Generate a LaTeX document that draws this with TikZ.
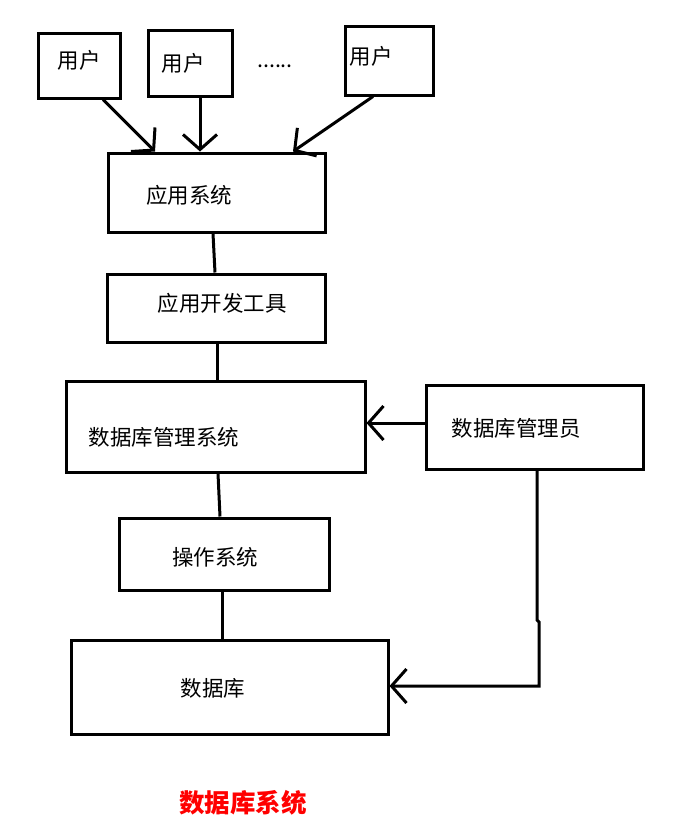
\documentclass[tikz,border=0pt]{standalone}
\usepackage{fontspec}
\setmainfont{Noto Sans CJK SC}
\usetikzlibrary{arrows.meta,calc}
\begin{document}
\begin{tikzpicture}[x=1pt,y=-1pt,
  box/.style={draw,line width=3pt,rectangle,inner sep=0pt},
  txt/.style={font=\fontsize{21.5}{24}\selectfont,inner sep=0pt},
  conn/.style={line width=3pt},
  arr/.style={line width=3pt,-{Straight Barb[length=15pt,width=34pt,line width=3pt]}}]
\useasboundingbox (0,0) rectangle (696,828);
% boxes
\node[box,minimum width=82pt,minimum height=65pt] (u1) at (79,65.5) {};
\node[box,minimum width=84pt,minimum height=66pt] (u2) at (190,63) {};
\node[box,minimum width=88pt,minimum height=69pt] (u3) at (389,60.5) {};
\node[box,minimum width=217pt,minimum height=79pt] (app) at (216.5,192.5) {};
\node[box,minimum width=218pt,minimum height=68pt] (dev) at (216,308) {};
\node[box,minimum width=299pt,minimum height=91pt] (dbms) at (215.5,426.5) {};
\node[box,minimum width=217pt,minimum height=84pt] (dba) at (534.5,427) {};
\node[box,minimum width=210pt,minimum height=72pt] (os) at (224,554) {};
\node[box,minimum width=317pt,minimum height=94pt] (db) at (229.5,687) {};
% texts
\node[txt] (t1) at (79,60) {用户};
\node[txt] (t2) at (183,63) {用户};
\node[txt] (t3) at (371,56) {用户};
\node[txt] (dots) at (275,66) {......};
\node[txt] (tapp) at (189,195) {应用系统};
\node[txt] (tdev) at (222,303) {应用开发工具};
\node[txt] (tdbms) at (164,437) {数据库管理系统};
\node[txt] (tdba) at (516,428) {数据库管理员};
\node[txt] (tos) at (215,557) {操作系统};
\node[txt] (tdb) at (213,688) {数据库};
\node[font=\bfseries\fontsize{25.5}{28}\selectfont,text=red,inner sep=0pt] (title) at (243,803) {数据库系统};
% arrows from users
\draw[arr] (u1.south -| 103,0) -- (app.north -| 155,0);
\draw[arr] (u2.south -| 200,0) -- (app.north -| 200,0);
\draw[arr] (u3.south -| 373,0) -- (app.north -| 293,0);
% vertical connectors
\draw[conn] (app.south -| 213,0) -- (dev.north -| 215,0);
\draw[conn] (dev.south -| 217,0) -- (dbms.north -| 217,0);
\draw[conn] (dbms.south -| 218,0) -- (os.north -| 220,0);
\draw[conn] (os.south -| 222,0) -- (db.north -| 222,0);
% dba connectors
\draw[arr] (dba.west |- 0,423) -- (dbms.east |- 0,423);
\coordinate (bend) at (539,686);
\draw[arr] (dba.south -| 537,0) -- (537,620) -- (539,622) -- (bend) -- (db.east |- bend);
\end{tikzpicture}
\end{document}
